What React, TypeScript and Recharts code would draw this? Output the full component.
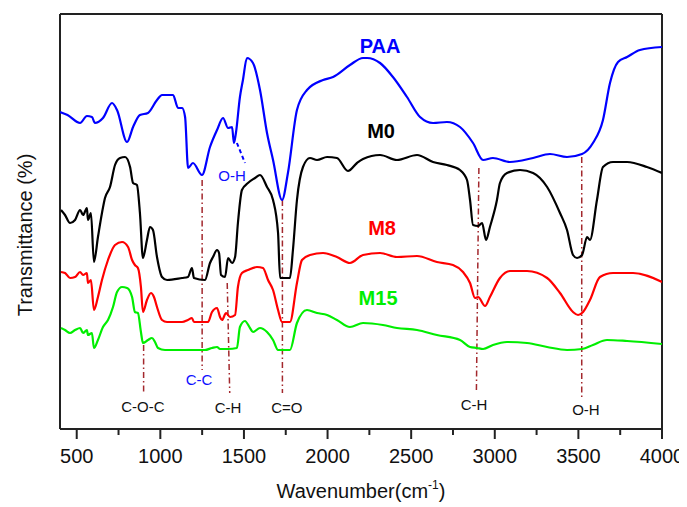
import React from "react";
import { ComposedChart, Line, XAxis, YAxis, ReferenceLine, ReferenceDot } from "recharts";

const wnPAA = [400,445,520,561,591,609,657,711,741,801,837,878,926,980,1010,1076,1106,1130,1148,1166,1195,1249,1297,1339,1375,1405,1429,1440,1452,1476,1494,1518,1554,1596,1638,1674,1728,1763,1817,1877,1973,2033,2134,2212,2236,2314,2391,2475,2553,2631,2714,2792,2870,2930,2989,3091,3229,3330,3432,3522,3587,3647,3689,3737,3791,3868,4000];
const tPAA = [317,314,306,313,312,306,311,326,319,287,302,314,316,329,334,334,321,321,312,261,266,254,282,299,311,301,302,286,296,332,349,371,366,339,296,269,229,256,319,339,349,352,364,371,371,366,352,332,312,306,307,302,286,269,271,267,271,275,272,275,286,309,346,367,372,379,382];

const wnM0 = [406,430,460,490,520,538,561,567,585,603,627,651,669,699,729,759,789,819,837,860,878,896,920,938,956,980,1010,1040,1130,1165,1189,1201,1267,1297,1315,1339,1351,1363,1387,1405,1429,1447,1464,1488,1524,1566,1596,1638,1674,1704,1716,1775,1793,1817,1853,1895,1937,1997,2056,2122,2176,2212,2314,2415,2535,2631,2714,2792,2834,2852,2870,2900,2924,2948,2971,3013,3031,3073,3151,3229,3313,3390,3432,3468,3492,3522,3552,3569,3611,3647,3707,3791,3910,4000];
const tM0 = [219,214,206,209,219,214,221,209,216,167,192,216,231,242,264,271,272,262,246,244,216,171,189,202,199,172,152,149,151,152,161,151,149,166,172,179,176,154,152,171,166,172,206,239,246,251,254,242,229,196,151,151,179,229,262,271,269,272,271,258,266,270,274,269,274,267,264,259,249,229,204,203,206,189,202,229,246,256,259,256,242,216,199,174,171,174,192,189,229,262,267,267,262,256];

const wnM8 = [406,430,460,490,520,538,561,567,585,603,627,651,687,729,771,807,831,848,866,884,896,920,944,962,980,1010,1040,1130,1165,1189,1201,1285,1309,1339,1357,1369,1393,1417,1447,1464,1488,1524,1578,1614,1644,1674,1704,1728,1775,1817,1847,1895,1973,2056,2134,2212,2314,2415,2535,2654,2750,2810,2852,2882,2900,2942,2971,3031,3091,3193,3313,3390,3468,3498,3528,3569,3629,3707,3827,4000];
const tM8 = [157,156,151,152,157,154,156,146,149,119,132,149,169,184,187,182,169,164,161,142,117,129,136,132,122,109,107,107,109,111,107,107,117,121,112,109,116,112,114,142,156,159,162,161,149,139,119,107,107,146,169,174,176,172,166,174,176,172,173,167,164,157,146,131,132,123,132,151,158,158,151,136,117,114,117,129,152,156,156,147];

const wnM15 = [406,430,460,490,520,538,561,567,591,603,627,657,687,717,741,771,801,831,848,866,884,896,926,950,968,986,1028,1165,1267,1309,1339,1357,1405,1458,1476,1506,1536,1554,1596,1638,1674,1704,1775,1817,1877,1937,1997,2056,2134,2212,2331,2415,2535,2654,2792,2852,2894,2930,2989,3073,3193,3313,3432,3522,3587,3671,3791,4000];
const tM15 = [101,99,96,99,101,96,99,94,96,81,89,102,109,122,137,142,141,132,117,116,97,86,89,91,87,81,79,79,79,81,82,80,80,81,102,108,101,97,101,97,89,79,79,106,119,116,114,109,102,106,104,101,99,94,89,82,81,80,84,87,86,82,79,80,84,89,88,85];

const xTicks = [500,750,1000,1250,1500,1750,2000,2250,2500,2750,3000,3250,3500,3750,4000];

// peak marker lines: [x top, y top, x bottom, y bottom]
const peakLines = [
  [900, 84, 900, 36],
  [1250, 249, 1250, 59],
  [1400, 146, 1415, 36],
  [1730, 229, 1730, 36],
  [2905, 261, 2890, 36],
  [3520, 272, 3520, 32],
];

const peakLabels = [
  { x: 896, y: 23, text: "C-O-C", color: "#111" },
  { x: 1231, y: 50, text: "C-C", color: "#1010ff" },
  { x: 1405, y: 22, text: "C-H", color: "#111" },
  { x: 1757, y: 22, text: "C=O", color: "#111" },
  { x: 2876, y: 25, text: "C-H", color: "#111" },
  { x: 3545, y: 20, text: "O-H", color: "#111" },
  { x: 1429, y: 254, text: "O-H", color: "#1010ff" },
];

const seriesLabels = [
  { x: 2314, y: 383, text: "PAA", color: "#0000ff" },
  { x: 2320, y: 298, text: "M0", color: "#000000" },
  { x: 2326, y: 201, text: "M8", color: "#ff0000" },
  { x: 2302, y: 131, text: "M15", color: "#00ee00" },
];

const toPts = (xs: number[], ys: number[]) => xs.map((x, i) => ({ x, y: ys[i] }));
const dPAA = toPts(wnPAA, tPAA);
const dM0 = toPts(wnM0, tM0);
const dM8 = toPts(wnM8, tM8);
const dM15 = toPts(wnM15, tM15);

const FONT = "'Liberation Sans', Arial, sans-serif";

const Tick = (props: any) => {
  const { x, y, payload } = props;
  const major = payload.value % 500 === 0;
  return (
    <g>
      <line x1={x} x2={x} y1={y} y2={y + (major ? 10 : 6)} stroke="#222" strokeWidth={2} />
      {major && (
        <text x={x} y={y + 34} textAnchor="middle" fontSize={20} fontFamily={FONT} fill="#111">
          {payload.value}
        </text>
      )}
    </g>
  );
};

const XTitle = (props: any) => {
  const vb = props.viewBox;
  return (
    <text x={vb.x + vb.width / 2} y={vb.y + 69} textAnchor="middle" fontSize={20} fontFamily={FONT} fill="#111">
      Wavenumber(cm<tspan fontSize={12} dy={-9}>-1</tspan><tspan dy={9}>)</tspan>
    </text>
  );
};

const YTitle = () => (
  <text x={17} y={227} transform="rotate(-90 17 227)" textAnchor="middle" dominantBaseline="central" fontSize={20} fontFamily={FONT} fill="#111">
    Transmittance (%)
  </text>
);

const makeText = (text: string, color: string, size: number, bold: boolean) => (p: any) => (
  <text x={p.cx} y={p.cy} textAnchor="middle" dominantBaseline="central" fontSize={size} fontWeight={bold ? "bold" : "normal"} fontFamily={FONT} fill={color}>
    {text}
  </text>
);

export default function App() {
  return (
    <ComposedChart width={679} height={499} margin={{ top: 6, right: 25, left: 0, bottom: 18 }}>
      <XAxis
        dataKey="x"
        type="number"
        domain={[400, 4000]}
        allowDataOverflow
        ticks={xTicks}
        interval={0}
        tick={<Tick />}
        tickLine={false}
        tickSize={0}
        tickMargin={0}
        height={60}
        axisLine={{ stroke: "#222", strokeWidth: 2 }}
        label={<XTitle />}
      />
      <YAxis
        type="number"
        domain={[0, 415]}
        allowDataOverflow
        width={52}
        tick={false}
        tickLine={false}
        axisLine={false}
        label={<YTitle />}
      />
      <ReferenceLine x={400} stroke="#222" strokeWidth={2} />
      <ReferenceLine x={4000} stroke="#222" strokeWidth={2} />
      <ReferenceLine y={415} stroke="#222" strokeWidth={2} />
      {peakLines.map((s, i) => (
        <ReferenceLine
          key={"pl" + i}
          segment={[{ x: s[0], y: s[1] }, { x: s[2], y: s[3] }]}
          stroke="#a3282d"
          strokeWidth={1.5}
          strokeDasharray="6 3 1.5 3"
        />
      ))}
      <ReferenceLine
        segment={[{ x: 1458, y: 286 }, { x: 1506, y: 266 }]}
        stroke="#0000ff"
        strokeWidth={2}
        strokeDasharray="4 3"
      />
      <Line data={dPAA} dataKey="y" type="monotone" stroke="#0000ff" strokeWidth={2.2} dot={false} isAnimationActive={false} />
      <Line data={dM0} dataKey="y" type="monotone" stroke="#000000" strokeWidth={2.2} dot={false} isAnimationActive={false} />
      <Line data={dM8} dataKey="y" type="monotone" stroke="#ff0000" strokeWidth={2.2} dot={false} isAnimationActive={false} />
      <Line data={dM15} dataKey="y" type="monotone" stroke="#00ee00" strokeWidth={2.2} dot={false} isAnimationActive={false} />
      {peakLabels.map((l, i) => (
        <ReferenceDot key={"lab" + i} x={l.x} y={l.y} r={0} shape={makeText(l.text, l.color, 15, false)} />
      ))}
      {seriesLabels.map((l, i) => (
        <ReferenceDot key={"sl" + i} x={l.x} y={l.y} r={0} shape={makeText(l.text, l.color, 20, true)} />
      ))}
    </ComposedChart>
  );
}
